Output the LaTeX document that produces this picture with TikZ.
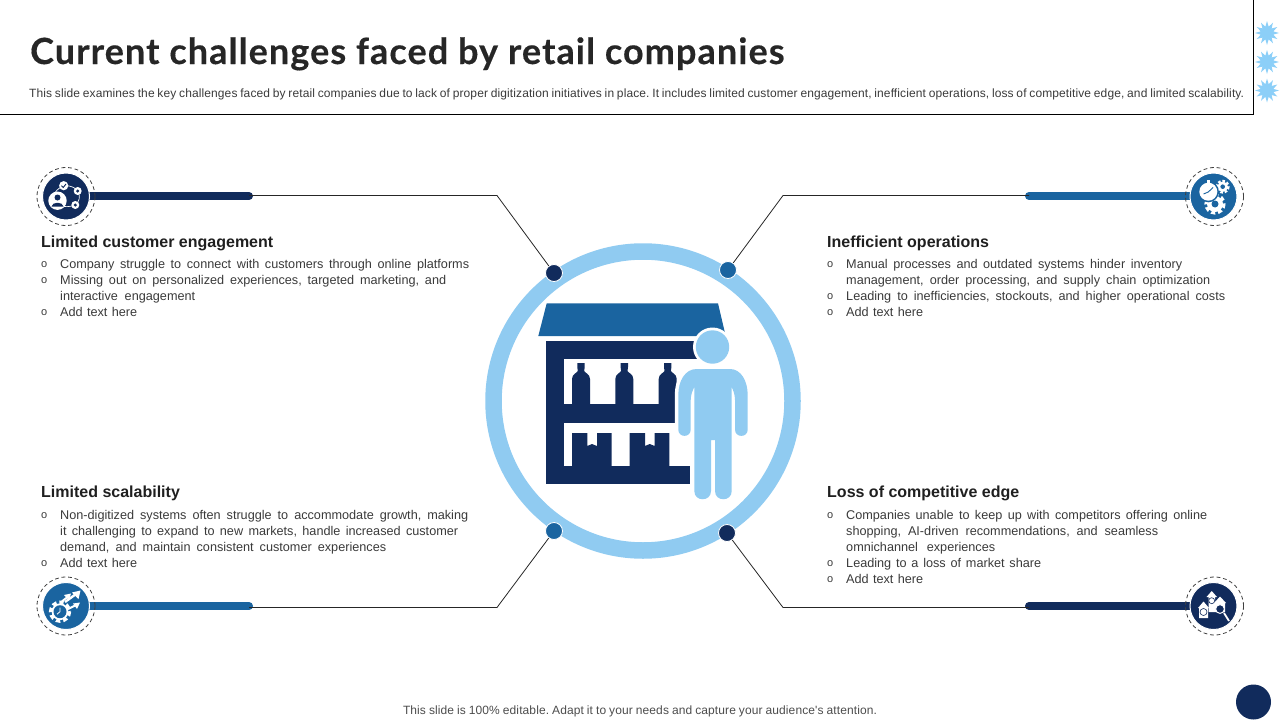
\documentclass[tikz,border=0pt]{standalone}
\usepackage{fontspec}
\setmainfont{Liberation Sans}
\frenchspacing
\newfontfamily\titlefont[LetterSpace=3.0,BoldFeatures={FakeBold=0.35}]{Lato}
\newfontfamily\subfont[LetterSpace=0.9]{Liberation Sans}
\usetikzlibrary{shapes.geometric,backgrounds}
\definecolor{navy}{HTML}{112B5C}
\definecolor{midblue}{HTML}{1A64A0}
\definecolor{skyblue}{HTML}{90CBF1}
\definecolor{starblue}{HTML}{8CCFF8}
\definecolor{bodygray}{HTML}{3A3A3A}
\newcommand{\fitline}[2]{\makebox[#1pt][s]{#2}}
\newcommand{\bul}[2]{\makebox[19pt][l]{\raisebox{0.4pt}{\fontsize{11}{11}\selectfont o}}\fitline{#1}{#2}}
\newcommand{\cont}[2]{\hspace*{19pt}\fitline{#1}{#2}}
\newcommand{\tightline}[2]{{\subfont\spaceskip=2.4pt plus 6pt minus 1.2pt\relax\fitline{#1}{#2}}}
\newcommand{\gearicon}[3]{% x y r
  \fill[white] (#1,#2) circle (#3*0.8);
  \draw[white,line width=#3*0.36,dash pattern=on #3*0.38 off #3*0.3] (#1,#2) circle (#3*0.88);}
\tikzset{
  x=1pt,y=-1pt,
  heading/.style={anchor=base west,inner sep=0,font=\fontsize{16}{18}\selectfont\bfseries,text=black!88},
  bodytext/.style={anchor=north west,inner sep=0,align=left,font=\fontsize{12.67}{16}\selectfont,text=bodygray},
  thinline/.style={draw=black!85,line width=0.8pt},
  thickbar/.style={line width=8pt,line cap=round},
  ringdot/.style={circle,minimum size=17pt,inner sep=0,draw=white,line width=0.8pt},
  badge/.style={circle,minimum size=47pt,inner sep=0,draw=white,line width=1pt},
  dashring/.style={circle,minimum size=58pt,inner sep=0,draw=black!75,line width=0.8pt,dash pattern=on 3.8pt off 2.8pt},
  burst/.style={star,star points=12,star point ratio=1.85,minimum size=24pt,inner sep=0,fill=starblue},
  iconline/.style={draw=white,line width=0.7pt},
}
\begin{document}
\begin{tikzpicture}
\useasboundingbox (0,0) rectangle (1280,720);
% header
\coordinate (hl) at (0,114.3); \coordinate (hc) at (1253.5,114.3); \coordinate (ht) at (1253.5,0);
\draw[black,line width=0.9pt] (hl) -- (hc) -- (ht);
\node[anchor=base west,inner sep=0,font=\fontsize{36}{38}\selectfont\titlefont\bfseries,text=black!85] (title) at (30,64) {Current challenges faced by retail companies};
\node[anchor=base west,inner sep=0,font=\fontsize{12}{14}\selectfont,text=bodygray] (sub) at (29,97) {\tightline{1215}{This slide examines the key challenges faced by retail companies due to lack of proper digitization initiatives in place. It includes limited customer engagement, inefficient operations, loss of competitive edge, and limited scalability.}};
\node[burst] (s1) at (1267,33) {};
\node[burst] (s2) at (1267,62) {};
\node[burst] (s3) at (1267,90.5) {};
% central ring
\node[circle,draw=skyblue,line width=16.5pt,minimum size=299pt,inner sep=0] (ring) at (643,401) {};
% shop
\fill[midblue] (546.7,303.3) -- (718,303.3) -- (725.7,336) -- (538.3,336) -- cycle;
\fill[navy] (546,341) rectangle (700,359);
\fill[navy] (546,341) rectangle (564,484);
\fill[navy] (546,404.3) rectangle (680,422.7);
\fill[navy] (546,466) rectangle (690,484);
\foreach \bx in {572,615.3,658.7}{
  \fill[navy] (\bx+5.3,363) -- (\bx+12.7,363) -- (\bx+12.7,367) -- (\bx+12.2,371) .. controls (\bx+13,373) and (\bx+18,374) .. (\bx+18,379) -- (\bx+18,405) -- (\bx,405) -- (\bx,379) .. controls (\bx,374) and (\bx+5,373) .. (\bx+5.8,371) -- (\bx+5.3,367) -- cycle;
}
\foreach \bx in {572,629.7}{
  \fill[navy] (\bx,433) -- (\bx+15.3,433) -- (\bx+15.3,446) -- (\bx+20,444) -- (\bx+25,446) -- (\bx+25,433) -- (\bx+39.7,433) -- (\bx+39.7,467) -- (\bx,467) -- cycle;
}
% person: halo then figure
\def\personpath{(696.7,369) -- (730,369) .. controls (741,369) and (747.7,381) .. (747.7,395) -- (747.7,429.5) .. controls (747.7,438) and (735,438) .. (735,429.5) -- (735,400) .. controls (735,394) and (733,390) .. (731.7,387) -- (731.7,491) .. controls (731.7,502) and (715,502) .. (715,491) -- (715,440) -- (711,440) -- (711,491) .. controls (711,502) and (694.3,502) .. (694.3,491) -- (694.3,387) .. controls (693,390) and (690.7,394) .. (690.7,400) -- (690.7,429.5) .. controls (690.7,438) and (678.3,438) .. (678.3,429.5) -- (678.3,395) .. controls (678.3,381) and (685,369) .. (696.7,369) -- cycle}
\fill[white] (712.5,347) circle (19.5);
\draw[white,line width=7pt,line join=round,fill=white] \personpath;
\fill[skyblue] \personpath;
\fill[skyblue] (712.5,347) circle (16.7);
% connector anchors
\coordinate (tlA) at (249,196); \coordinate (tlB) at (497,195.5); \coordinate (tlS) at (249,195.5);
\coordinate (trA) at (1029,196); \coordinate (trB) at (783,195.5); \coordinate (trS) at (1029,195.5);
\coordinate (blA) at (249,606); \coordinate (blB) at (497,607.5); \coordinate (blS) at (249,607.5);
\coordinate (brA) at (1029,606); \coordinate (brB) at (783,607.5); \coordinate (brS) at (1029,607.5);
\node[ringdot,fill=navy] (dtl) at (554,273) {};
\node[ringdot,fill=midblue] (dtr) at (728,270) {};
\node[ringdot,fill=midblue] (dbl) at (554,531) {};
\node[ringdot,fill=navy] (dbr) at (727,533) {};
\draw[thinline] (tlS) -- (tlB) -- (dtl);
\draw[thinline] (trS) -- (trB) -- (dtr);
\draw[thinline] (blS) -- (blB) -- (dbl);
\draw[thinline] (brS) -- (brB) -- (dbr);
% badges
\node[dashring] (rtl) at (66,196.5) {};
\node[dashring] (rtr) at (1214.5,196.5) {};
\node[dashring] (rbl) at (66,606) {};
\node[dashring] (rbr) at (1214.5,606) {};
\node[badge,fill=navy] (btl) at (66,196.5) {};
\node[badge,fill=midblue] (btr) at (1213.5,196.5) {};
\node[badge,fill=midblue] (bbl) at (66,606) {};
\node[badge,fill=navy] (bbr) at (1213.5,606) {};
\begin{scope}[on background layer]
\draw[thickbar,navy] (tlA) -- (btl.center |- tlA);
\draw[thickbar,midblue] (trA) -- (btr.center |- trA);
\draw[thickbar,midblue] (blA) -- (bbl.center |- blA);
\draw[thickbar,navy] (brA) -- (bbr.center |- brA);
\end{scope}
% icon 1: people network
\draw[iconline] (63.7,185.7) .. controls (72,185) and (78,190) .. (77.7,191) (77.7,191) .. controls (81,197) and (79,202) .. (75.3,205) (75.3,205) .. controls (70,207) and (65,207) .. (60,206) (63.7,185.7) .. controls (58,188) and (55,192) .. (54,195);
\fill[white] (57.5,200.7) circle (9.2);
\fill[navy] (57.5,197.5) circle (3);
\fill[navy] (51.5,206.5) .. controls (52,201.5) and (63,201.5) .. (63.5,206.5) -- cycle;
\fill[white] (63.7,185.7) circle (4.6);
\draw[navy,line width=0.9pt] (61.5,185.7) -- (63.2,187.5) -- (66,184);
\fill[white] (77.7,191) circle (4);
\fill[navy] (77.7,191) circle (1.7);
\fill[white] (75.3,205) circle (4);
\fill[navy] (75.3,205) circle (1.7);
% icon 2: stopwatch and gears
\gearicon{1222.7}{186.7}{6.5}
\fill[midblue] (1222.7,186.7) circle (2.3);
\gearicon{1215}{204}{10}
\fill[midblue] (1215,204) circle (3.5);
\fill[midblue] (1208.3,191.7) circle (10.6);
\fill[white] (1208.3,191.7) circle (9);
\fill[white] (1206.5,179.5) rectangle (1210,182.5);
\draw[midblue,line width=0.9pt] (1203.5,194) -- (1208.3,192) -- (1213,187.5);
% icon 3: gear clock and arrows
\draw[white,line width=2.4pt] (65,602) -- (76,594);
\fill[white] (80.5,590.5) -- (78.5,599) -- (72,592.5) -- cycle;
\draw[white,line width=2pt] (60,603) -- (67.5,597);
\fill[white] (71,593.5) -- (69,600) -- (64,595) -- cycle;
\draw[white,line width=2pt] (68,609) -- (76,605);
\fill[white] (80,602.5) -- (77,609) -- (73,603.5) -- cycle;
\gearicon{60}{611.7}{10.5}
\fill[midblue] (60,611.7) circle (6.5);
\draw[white,line width=0.8pt] (60,607.5) -- (60,611.7) -- (57,614.2);
% icon 4: arrows, coins, magnifier
\fill[white] (1211.7,591) -- (1217,597) -- (1215,597) -- (1215,612) -- (1208.5,612) -- (1208.5,597) -- (1206.5,597) -- cycle;
\fill[white] (1203.5,601.5) -- (1209,608) -- (1208,608) -- (1208,618) -- (1199,618) -- (1199,608) -- (1198,608) -- cycle;
\fill[white] (1220,596.5) -- (1226,603) -- (1225,603) -- (1225,612) -- (1215,612) -- (1215,603) -- (1214,603) -- cycle;
\draw[navy,line width=0.6pt,fill=white] (1203.5,612) circle (3.5);
\draw[navy,line width=0.6pt,fill=white] (1211.7,600.7) circle (3);
\draw[white,line width=1.8pt] (1224,613) -- (1229,621);
\draw[white,line width=1pt,fill=navy] (1220,609) circle (4.4);
% text blocks
\node[heading] (h1) at (41,247.5) {Limited customer engagement};
\node[bodytext] (t1) at (41,259) {\bul{409}{Company struggle to connect with customers through online platforms}\\
\bul{386}{Missing out on personalized experiences, targeted marketing, and}\\
\cont{135}{interactive engagement}\\
\bul{77}{Add text here}};
\node[heading] (h2) at (827,247.5) {Inefficient operations};
\node[bodytext] (t2) at (827,259) {\bul{336}{Manual processes and outdated systems hinder inventory}\\
\cont{364}{management, order processing, and supply chain optimization}\\
\bul{379}{Leading to inefficiencies, stockouts, and higher operational costs}\\
\bul{77}{Add text here}};
\node[heading] (h3) at (41,497.5) {Limited scalability};
\node[bodytext] (t3) at (41,510) {\bul{408}{Non-digitized systems often struggle to accommodate growth, making}\\
\cont{398}{it challenging to expand to new markets, handle increased customer}\\
\cont{326}{demand, and maintain consistent customer experiences}\\
\bul{77}{Add text here}};
\node[heading] (h4) at (827,497.5) {Loss of competitive edge};
\node[bodytext] (t4) at (827,510) {\bul{361}{Companies unable to keep up with competitors offering online}\\
\cont{312}{shopping, AI-driven recommendations, and seamless}\\
\cont{149}{omnichannel experiences}\\
\bul{195}{Leading to a loss of market share}\\
\bul{77}{Add text here}};
% footer
\node[inner sep=0,font=\fontsize{12}{14}\selectfont,text=black!70] (foot) at (640,711) {\tightline{474}{This slide is 100\% editable. Adapt it to your needs and capture your audience's attention.}};
\node[circle,fill=navy,minimum size=35pt,inner sep=0] (pg) at (1253.5,702) {};
\end{tikzpicture}
\end{document}
